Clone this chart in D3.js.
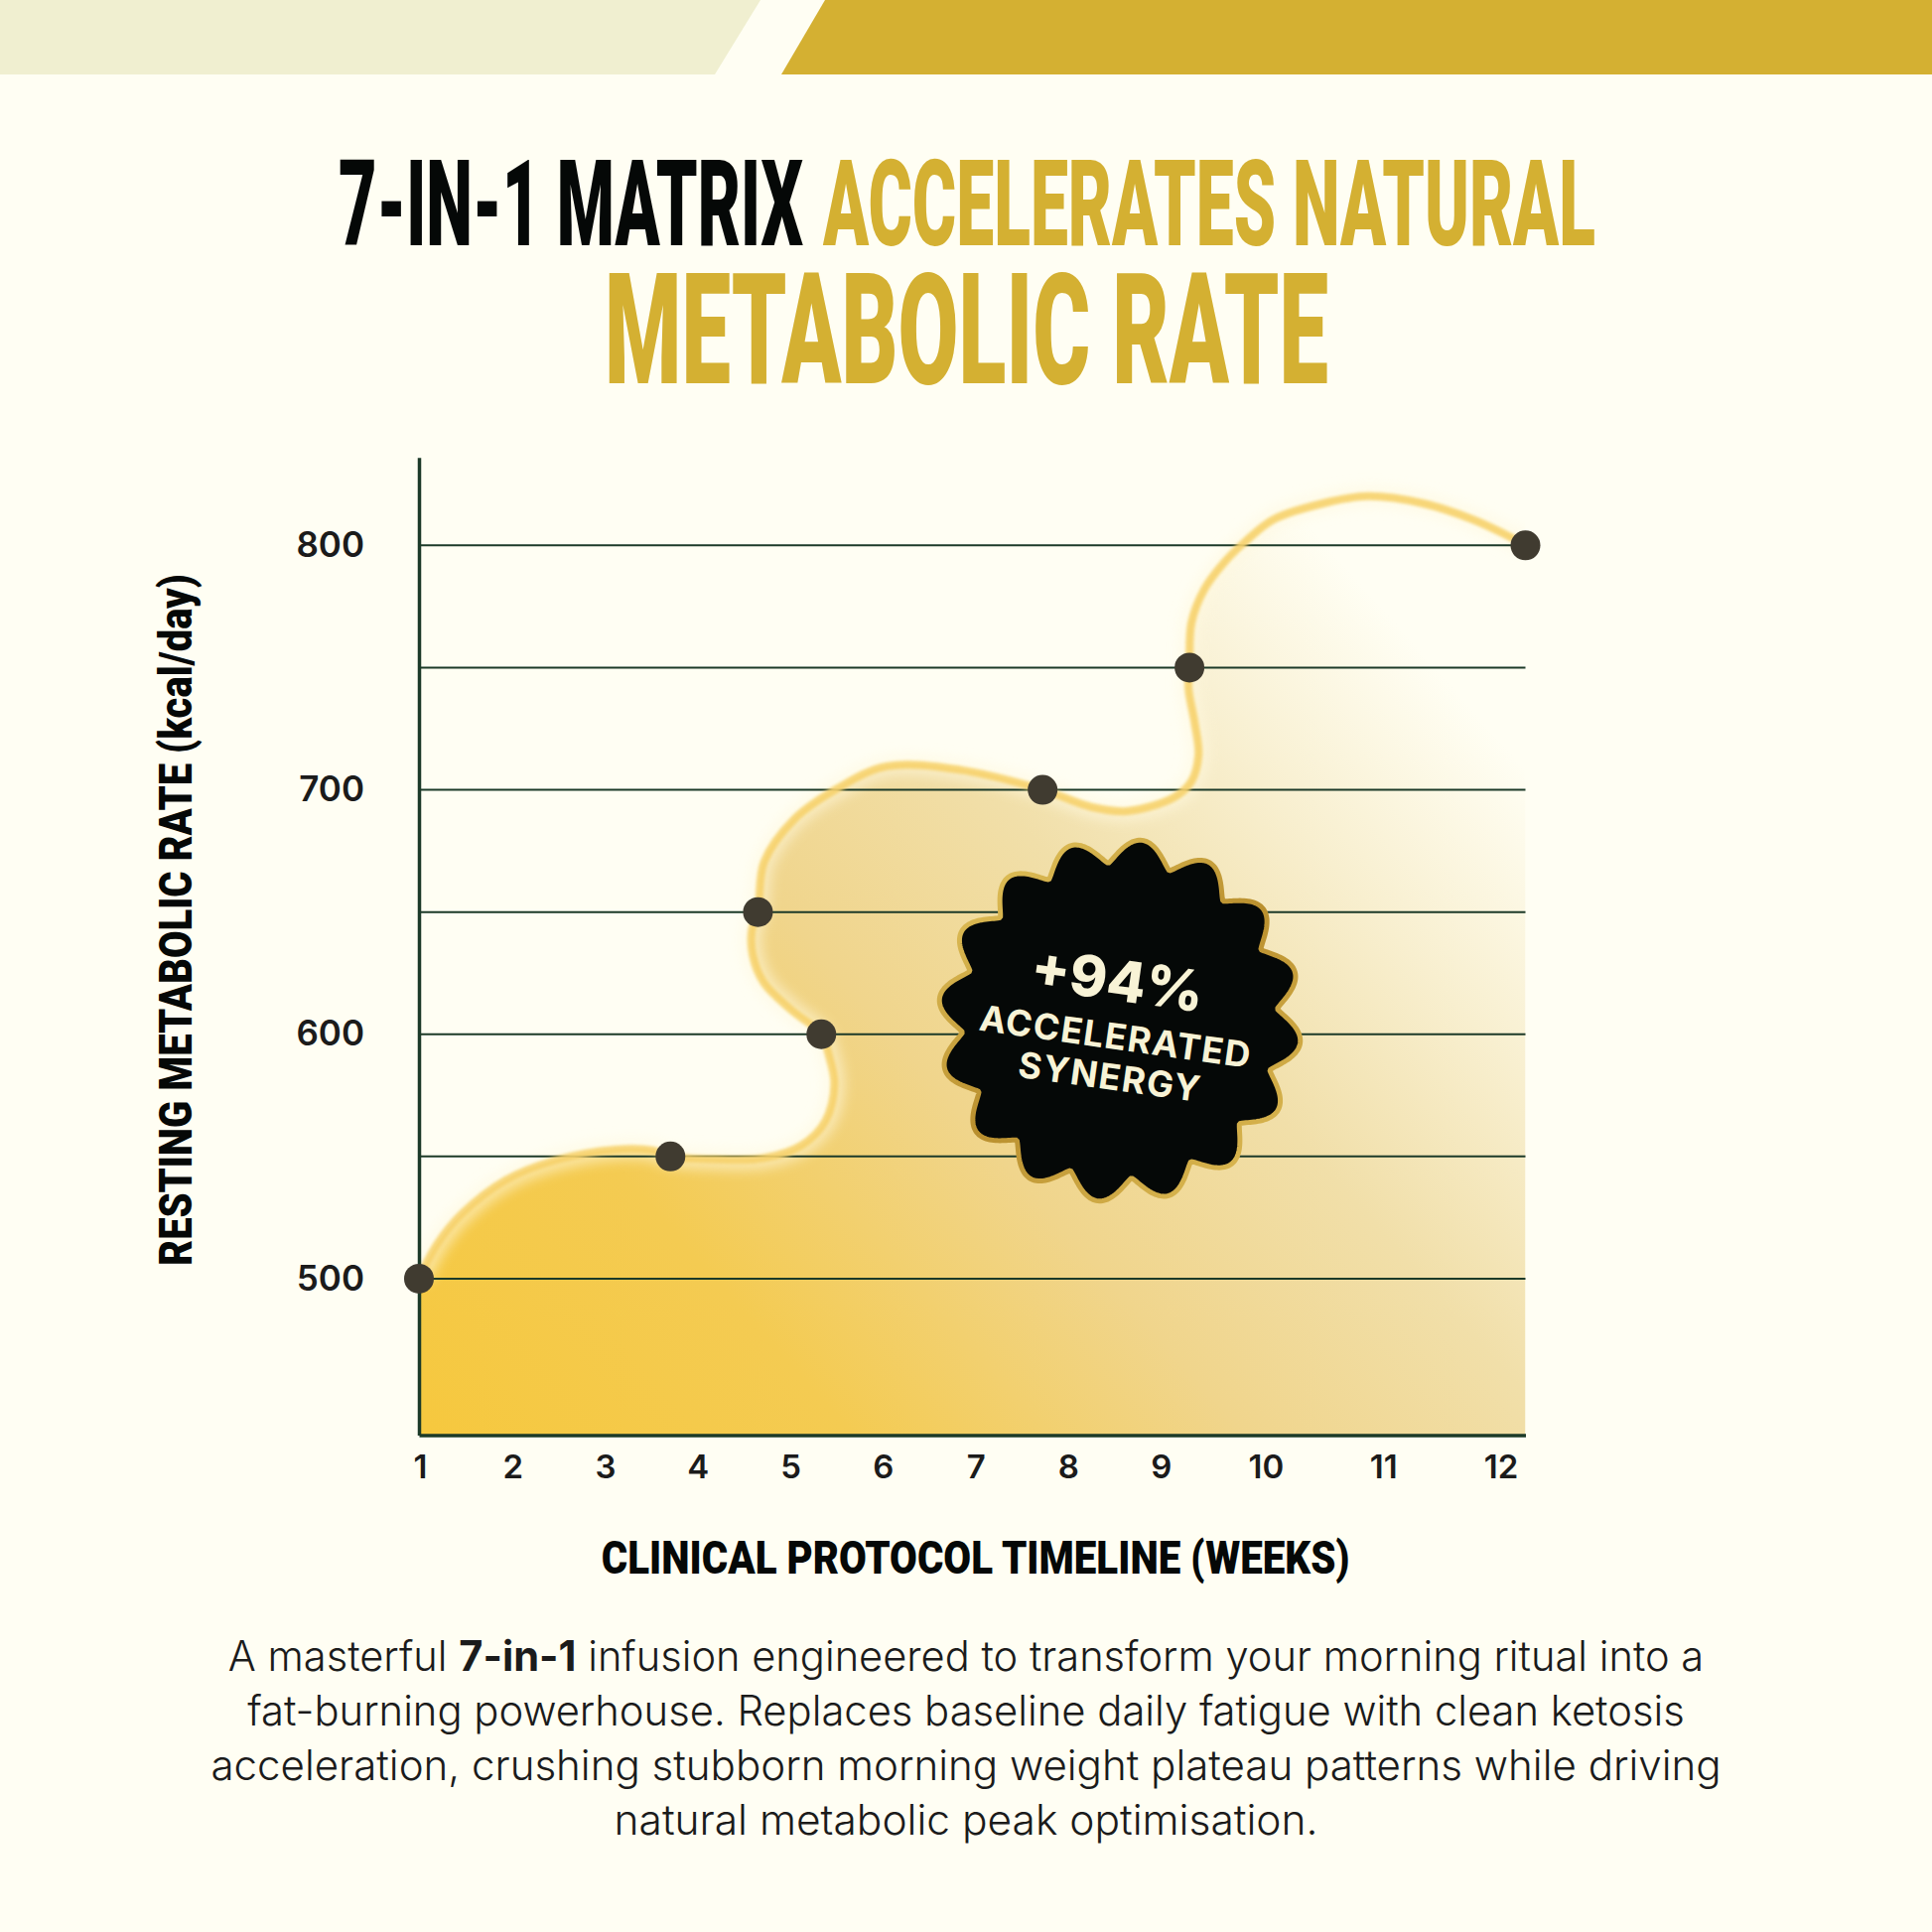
<!DOCTYPE html>
<html>
<head>
<meta charset="utf-8">
<script src="https://cdnjs.cloudflare.com/ajax/libs/d3/7.8.5/d3.min.js"></script>
<style>
  html, body { margin: 0; padding: 0; background: #fffef3; }
  svg { display: block; }
  .tick text { fill: #1b1b1b; font-family: Inter, "Noto Sans", sans-serif; font-weight: 600; }
</style>
</head>
<body>
<script>
// chart data
var weeks = [1, 2, 3, 4, 5, 6, 7, 8, 9, 10, 11, 12];
var pointWeeks = [1, 3.5, 5.0, 4.37, 7.2, 8.66, 12];
var pointRates = [500, 550, 600, 650, 700, 750, 800];
// the drawn ribbon (it swings well past the markers)
var curveWeeks = [1.00, 1.18, 1.43, 1.86, 2.35, 2.96, 3.33, 3.50, 3.94, 4.43, 4.80, 5.04, 5.13, 5.07, 5.00,
  4.70, 4.43, 4.32, 4.31, 4.37, 4.43, 4.73, 5.16, 5.65, 6.39, 7.20, 7.69, 8.04, 8.51, 8.68, 8.75, 8.71,
  8.65, 8.66, 8.68, 8.81, 9.00, 9.20, 9.50, 9.99, 10.43, 10.98, 11.47, 11.87, 12.00];
var curveRates = [500, 514, 526.6, 540.2, 548.3, 552.8, 552.4, 550, 548.8, 549.3, 554.4, 564.4, 579.6, 592.2, 600,
  610, 621, 632, 642.7, 650, 670.3, 687.9, 700.5, 709.6, 708.1, 700, 692.9, 691.3, 697, 703.5, 714.4, 727.8,
  741.6, 750, 768.4, 782.2, 792.8, 801, 810.7, 817.2, 820.1, 817.2, 810.7, 803, 800];
var gridValues = [500, 550, 600, 650, 700, 750, 800];
var yTickValues = [500, 600, 700, 800];
var yDomain = [436, 836];

var titleDark = "7-IN-1 MATRIX";
var titleGold1 = "ACCELERATES NATURAL";
var titleGold2 = "METABOLIC RATE";
var yTitle = "RESTING METABOLIC RATE (kcal/day)";
var xTitle = "CLINICAL PROTOCOL TIMELINE (WEEKS)";
var badgeLines = ["+94%", "ACCELERATED", "SYNERGY"];
var bodyLines = [
  ["A masterful ", "7-in-1", " infusion engineered to transform your morning ritual into a"],
  ["fat-burning powerhouse. Replaces baseline daily fatigue with clean ketosis"],
  ["acceleration, crushing stubborn morning weight plateau patterns while driving"],
  ["natural metabolic peak optimisation."]
];

var W = 1946, H = 1946;
var GOLD = "#d4b032", INK = "#050807", GRID = "#1c3a28";
var condensed = "Roboto, 'Liberation Sans', sans-serif";

var svg = d3.select("body").append("svg").attr("width", W).attr("height", H);
var defs = svg.append("defs");

svg.append("rect").attr("width", W).attr("height", H).attr("fill", "#fffef3");

// top banner
svg.append("path").attr("d", "M0,0H766L720,75H0Z").attr("fill", "#f0efd0");
svg.append("path").attr("d", "M831,0H1946V75H787Z").attr("fill", GOLD);

// squeeze a text horizontally to the width seen in the picture
function fitText(t, cx, baseline, target, extra) {
  var len = t.node().getComputedTextLength();
  t.attr("transform", "translate(" + cx + "," + baseline + ")" + (extra || "") + " scale(" + (target / len) + ",1)");
  return t;
}
function headline(str, size, color) {
  return svg.append("text").attr("font-family", condensed).attr("font-weight", 900)
    .attr("font-size", size).attr("fill", color).text(str);
}

fitText(headline(titleDark, 120, INK), 341, 247, 468);
fitText(headline(titleGold1, 120, GOLD), 829, 247, 778);
fitText(headline(titleGold2, 155, GOLD), 609, 386, 729);

// scales
var x = d3.scaleLinear().domain([1, 12]).range([422, 1536.5]);
var y = d3.scaleLinear().domain(yDomain).range([1445.5, 460.7]);

var pts = pointWeeks.map(function (w, i) { return { w: w, v: pointRates[i] }; });
var trace = curveWeeks.map(function (w, i) { return { w: w, v: curveRates[i] }; });

// area gradient
var grad = defs.append("linearGradient").attr("id", "areaGrad")
  .attr("gradientUnits", "userSpaceOnUse")
  .attr("x1", x(1)).attr("y1", y(yDomain[0])).attr("x2", x(12)).attr("y2", y(yDomain[1]));
[[0, "#f6c83e"], [0.22, "#f4cb52"], [0.42, "#f0d58c"], [0.58, "#f1dfa9"], [0.72, "#f8efcf"], [0.86, "#fffef3"]]
  .forEach(function (s) { grad.append("stop").attr("offset", s[0]).attr("stop-color", s[1]); });

var blur = defs.append("filter").attr("id", "soft").attr("x", "-10%").attr("y", "-10%").attr("width", "120%").attr("height", "120%");
blur.append("feGaussianBlur").attr("stdDeviation", 1.6);
var glow = defs.append("filter").attr("id", "glow").attr("x", "-10%").attr("y", "-10%").attr("width", "120%").attr("height", "120%");
glow.append("feGaussianBlur").attr("stdDeviation", 6);

var line = d3.line().x(function (d) { return x(d.w); }).y(function (d) { return y(d.v); })
  .curve(d3.curveCatmullRom.alpha(0.5));
var curvePath = line(trace);
var areaPath = curvePath + "L" + x(12) + "," + y(yDomain[0]) + "L" + x(1) + "," + y(yDomain[0]) + "Z";

var plotClip = defs.append("clipPath").attr("id", "plotClip");
plotClip.append("rect").attr("x", x(1)).attr("y", 0).attr("width", x(12) - x(1)).attr("height", y(yDomain[0]));

var g = svg.append("g").attr("clip-path", "url(#plotClip)");
g.append("path").attr("d", areaPath).attr("fill", "url(#areaGrad)");
g.append("path").attr("d", curvePath).attr("fill", "none").attr("stroke", "#fff9e0")
  .attr("stroke-width", 22).attr("opacity", 0.55).attr("filter", "url(#glow)");

// gridlines
svg.append("g").selectAll("line").data(gridValues).enter().append("line")
  .attr("x1", x(1)).attr("x2", x(12))
  .attr("y1", function (d) { return y(d); }).attr("y2", function (d) { return y(d); })
  .attr("stroke", GRID).attr("stroke-width", 2);

// curve stroke
svg.append("path").attr("d", curvePath).attr("fill", "none").attr("stroke", "#f7d26c")
  .attr("stroke-width", 8).attr("stroke-linecap", "round").attr("opacity", 0.9).attr("filter", "url(#soft)");

// axes
var yAxis = svg.append("g").attr("transform", "translate(" + x(1) + ",0)")
  .call(d3.axisLeft(y).tickValues(yTickValues).tickSize(0).tickSizeOuter(0).tickPadding(55));
yAxis.select(".domain").attr("stroke", GRID).attr("stroke-width", 3.5);
yAxis.selectAll(".tick text").attr("font-size", 35);

var xBase = svg.append("g").attr("transform", "translate(0," + y(yDomain[0]) + ")")
  .call(d3.axisBottom(x).tickValues([]).tickSizeOuter(0));
xBase.select(".domain").attr("stroke", GRID).attr("stroke-width", 3.5);

// week labels laid out edge to edge with equal gaps (25px per digit slot)
var DIGIT = 25;
var slots = weeks.map(function (w) { return String(w).length * DIGIT; });
var spanL = x(1) - 11.5, spanR = x(12);
var gap = (spanR - spanL - d3.sum(slots)) / (weeks.length - 1);
var centers = [], acc = spanL;
slots.forEach(function (wd) { centers.push(acc + wd / 2); acc += wd + gap; });
var weekScale = d3.scaleOrdinal().domain(weeks).range(centers);
var xAxis = svg.append("g").attr("transform", "translate(0," + y(yDomain[0]) + ")")
  .call(d3.axisBottom(weekScale).tickSize(0).tickPadding(20));
xAxis.select(".domain").remove();
xAxis.selectAll(".tick text").attr("font-size", 33);

// dots
svg.append("g").selectAll("circle").data(pts).enter().append("circle")
  .attr("cx", function (d) { return x(d.w); }).attr("cy", function (d) { return y(d.v); })
  .attr("r", 15).attr("fill", "#403b30");

// badge
var bx = 1128, by = 1028, lobes = 16;
var angles = d3.range(0, 721).map(function (i) { return i / 720 * 2 * Math.PI; });
var radial = d3.lineRadial()
  .angle(function (a) { return a; })
  .radius(function (a) { return 159 + 24 * Math.pow((1 + Math.cos(lobes * a)) / 2, 0.6); })
  .curve(d3.curveLinearClosed);
var badgeGrad = defs.append("linearGradient").attr("id", "badgeRim").attr("x1", 0).attr("y1", 0).attr("x2", 1).attr("y2", 1);
badgeGrad.append("stop").attr("offset", 0).attr("stop-color", "#e9cb62");
badgeGrad.append("stop").attr("offset", 0.5).attr("stop-color", "#b98f2e");
badgeGrad.append("stop").attr("offset", 1).attr("stop-color", "#e3c25a");
var badge = svg.append("g").attr("transform", "translate(" + bx + "," + by + ") rotate(7)");
badge.append("path").attr("d", radial(angles)).attr("fill", INK)
  .attr("stroke", "url(#badgeRim)").attr("stroke-width", 5);
var bt = svg.append("g").attr("transform", "translate(" + (bx - 2) + "," + by + ") rotate(8)")
  .attr("font-family", "Inter, 'Noto Sans', sans-serif").attr("fill", "#f8f3d6").attr("text-anchor", "middle");
bt.append("text").attr("x", -6).attr("y", -20).attr("font-size", 57).attr("font-weight", 800).text(badgeLines[0]);
bt.append("text").attr("y", 29).attr("font-size", 36).attr("font-weight", 700).attr("letter-spacing", 1.3).text(badgeLines[1]);
bt.append("text").attr("y", 70).attr("font-size", 36).attr("font-weight", 700).attr("letter-spacing", 1.5).text(badgeLines[2]);

// axis titles
fitText(headline(yTitle, 46, INK).attr("text-anchor", "middle"), 193, 926.5, 697, " rotate(-90)");
fitText(headline(xTitle, 46, INK).attr("text-anchor", "middle"), 982.7, 1585, 754);

// body copy
var bodyWidths = [1487, 1448, 1522, 709];
bodyLines.forEach(function (parts, i) {
  var t = svg.append("text").attr("font-family", "Inter, 'Noto Sans', sans-serif")
    .attr("font-size", 42).attr("font-weight", 300).attr("fill", "#1b1b1b").attr("text-anchor", "middle");
  parts.forEach(function (p, j) {
    t.append("tspan").attr("font-weight", parts.length > 1 && j === 1 ? 700 : 300).text(p);
  });
  fitText(t, 973, 1683 + i * 55, bodyWidths[i]);
});
</script>
</body>
</html>
